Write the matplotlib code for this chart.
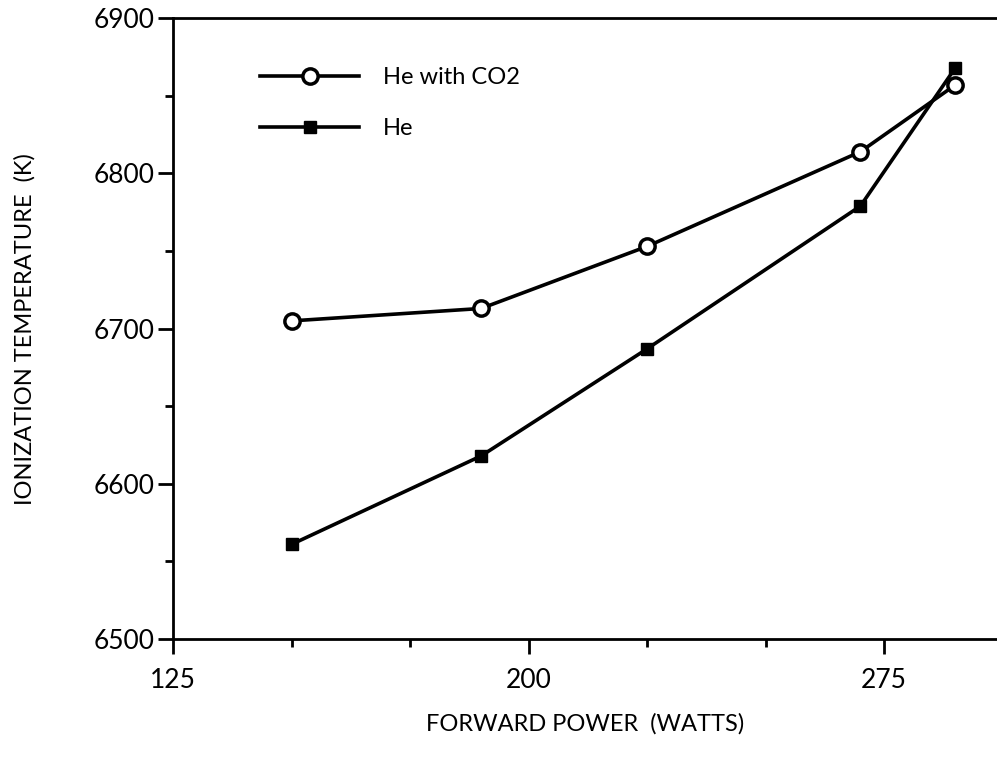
import matplotlib
matplotlib.use("Agg")
import matplotlib.pyplot as plt
from matplotlib.ticker import FixedLocator, MultipleLocator

# datos
potencia = [150, 190, 225, 270, 290]
temp_he_co2 = [6705, 6713, 6753, 6814, 6857]
temp_he = [6561, 6618, 6687, 6779, 6868]

ticks_x = [125, 200, 275]
ticks_x_menores = [150, 175, 225, 250]

plt.rcParams['font.family'] = ['Lato', 'DejaVu Sans']

fig = plt.figure(figsize=(9.97, 7.59), dpi=100)
ax = fig.add_axes([0.1735, 0.158, 0.8265, 0.818])

ax.plot(potencia, temp_he_co2, color='black', linewidth=2.6, marker='o',
        markersize=11, markerfacecolor='white', markeredgewidth=2.5,
        label='He with CO2')
ax.plot(potencia, temp_he, color='black', linewidth=2.6, marker='s',
        markersize=8, markerfacecolor='black', label='He')

ax.set_xlim(125, 298.8)
ax.set_ylim(6500, 6900)
ax.xaxis.set_major_locator(FixedLocator(ticks_x))
ax.xaxis.set_minor_locator(FixedLocator(ticks_x_menores))
ax.yaxis.set_major_locator(MultipleLocator(100))
ax.yaxis.set_minor_locator(MultipleLocator(50))

ax.spines['right'].set_visible(False)
for s in ['left', 'bottom', 'top']:
    ax.spines[s].set_linewidth(2)

ax.tick_params(which='major', direction='out', length=11, width=2, labelsize=19)
ax.tick_params(which='minor', direction='out', length=6, width=2)
ax.tick_params(axis='x', which='major', pad=10)
ax.tick_params(axis='y', which='major', pad=2)

ax.set_xlabel('FORWARD POWER  (WATTS)', fontsize=17, labelpad=14)
ax.set_ylabel('IONIZATION TEMPERATURE  (K)', fontsize=17, labelpad=42)

ax.legend(loc='upper left', bbox_to_anchor=(0.08, 0.955), frameon=False,
          fontsize=17, handlelength=4.2, handletextpad=1.0, labelspacing=1.25)

fig.savefig('out.png', dpi=100)
